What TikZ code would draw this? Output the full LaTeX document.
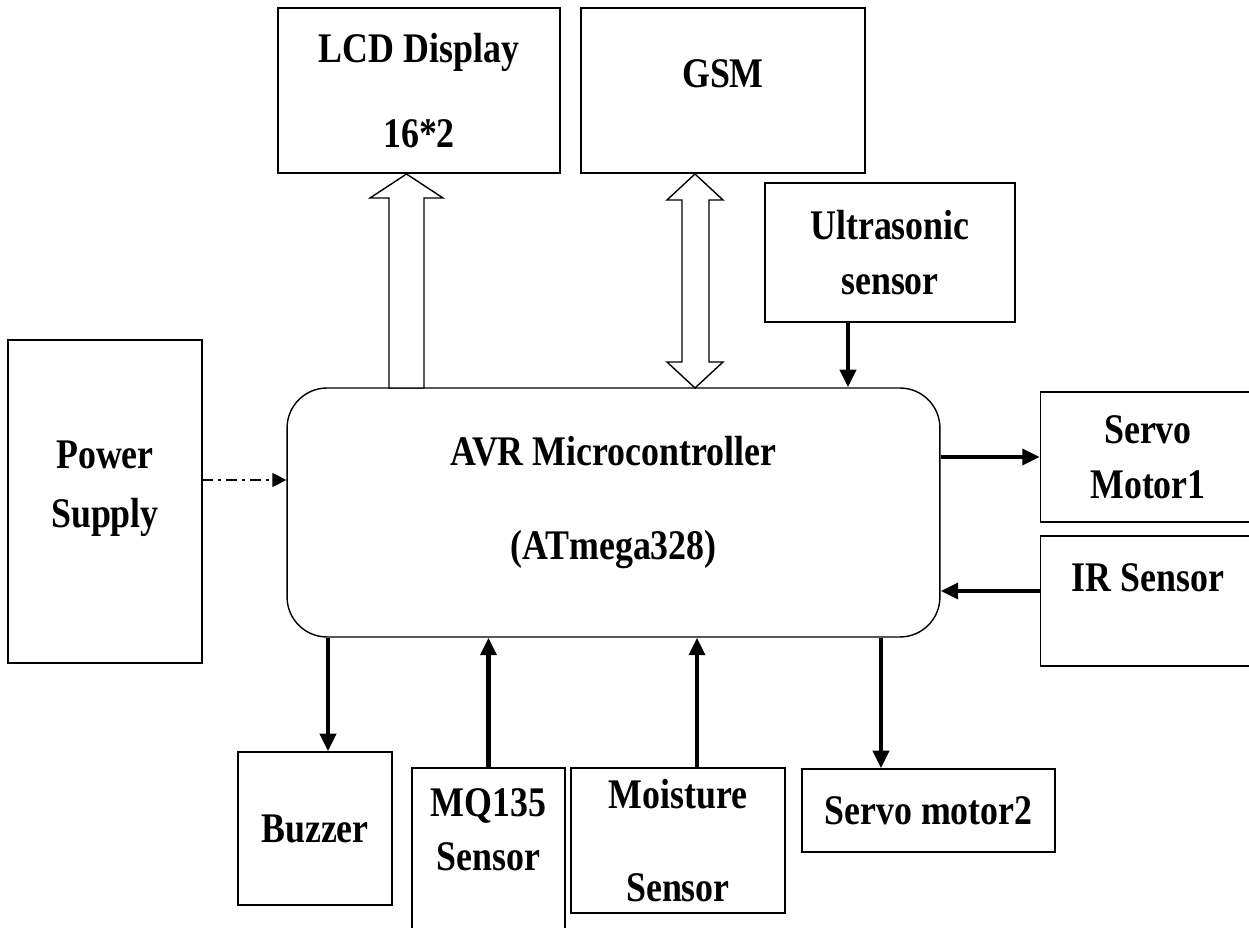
\documentclass[tikz,border=0pt]{standalone}
\usepackage{fontspec}
\setmainfont{Liberation Serif}[FakeStretch=0.85]
\usetikzlibrary{arrows.meta}

\begin{document}
\begin{tikzpicture}[x=0.02cm, y=-0.02cm,
    block/.style ={rectangle, draw, line width=0.8pt, align=center,
      font=\fontsize{24}{28}\selectfont\bfseries, inner sep=0pt},
    cpu/.style ={block, rounded corners=0.8cm},
    sig/.style ={line width=2.4pt, -{Triangle[length=10pt,width=9pt]}},
    pwr/.style ={line width=0.8pt, dash pattern=on 6pt off 3pt on 1.5pt off 3pt,
      -{Triangle[length=8pt,width=8pt]}},
    hollow/.style ={draw, line width=0.8pt, fill=white, line join=miter}]
   \useasboundingbox (0,0) rectangle (1249,928);

   \node[block, minimum width=5.64cm, minimum height=3.3cm] (lcd) at (419,90.5)
     {LCD Display\\[0.71cm]16*2};
   \node[block, minimum width=5.68cm, minimum height=3.3cm] (gsm) at (723,90.5)
     {GSM\\[-0.3cm]\mbox{}};
   \node[block, minimum width=5cm, minimum height=2.78cm] (ultra) at (890,252.5)
     {Ultrasonic\\[0.11cm]sensor};
   \node[block, minimum width=3.88cm, minimum height=6.46cm] (power) at (105,501.5)
     {Power\\[0.19cm]Supply\\[-0.3cm]\mbox{}};
   \node[cpu, minimum width=13.06cm, minimum height=4.98cm] (avr) at (613.5,512.5)
     {AVR Microcontroller\\[0.91cm](ATmega328)\\[-0.4cm]\mbox{}};
   \node[block, minimum width=4.3cm, minimum height=2.6cm] (servoa) at (1148,457)
     {Servo\\[0.11cm]Motor1};
   \node[block, minimum width=4.3cm, minimum height=2.6cm] (ir) at (1148,601)
     {IR Sensor\\[-0.05cm]\mbox{}};
   \node[block, minimum width=3.08cm, minimum height=3.06cm] (buzzer) at (315,828.5)
     {Buzzer};
   \node[block, minimum width=3.06cm, minimum height=3.6cm] (mq) at (488.5,858)
     {MQ135\\[0.11cm]Sensor\\[0.15cm]\mbox{}};
   \node[block, minimum width=4.28cm, minimum height=2.9cm] (moist) at (678,840.5)
     {Moisture\\[0.86cm]Sensor};
   \node[block, minimum width=5.06cm, minimum height=1.66cm] (servob) at (928.5,810.5)
     {Servo motor2};

   % block arrows to the display and the modem
   \draw[hollow] (389,388) -- (389,198) -- (370,198) -- (406.5,174) -- (443,198)
     -- (424,198) -- (424,388) -- cycle;
   \draw[hollow] (682,362) -- (682,200) -- (667,200) -- (695,174) -- (723,200)
     -- (709,200) -- (709,362) -- (723,362) -- (695,388) -- (667,362) -- cycle;

   \coordinate (us) at ([xshift=-0.84cm]ultra.south);
   \coordinate (ps) at ([yshift=0.43cm]power.east);
   \coordinate (is) at ([yshift=0.2cm]ir.west);
   \coordinate (bz) at ([xshift=0.26cm]buzzer.north);
   \coordinate (ms) at ([xshift=0.38cm]moist.north);
   \coordinate (sb) at ([xshift=-0.95cm]servob.north);

   \draw[sig] (us) to (us |- avr.north);
   \draw[sig] (servoa.west -| avr.east) to (servoa.west);
   \draw[sig] (is) to (is -| avr.east);
   \draw[sig] (bz |- avr.south) to (bz);
   \draw[sig] (mq.north) to (mq.north |- avr.south);
   \draw[sig] (ms) to (ms |- avr.south);
   \draw[sig] (sb |- avr.south) to (sb);
   \draw[pwr] (ps) to (ps -| avr.west);
\end{tikzpicture}
\end{document}
